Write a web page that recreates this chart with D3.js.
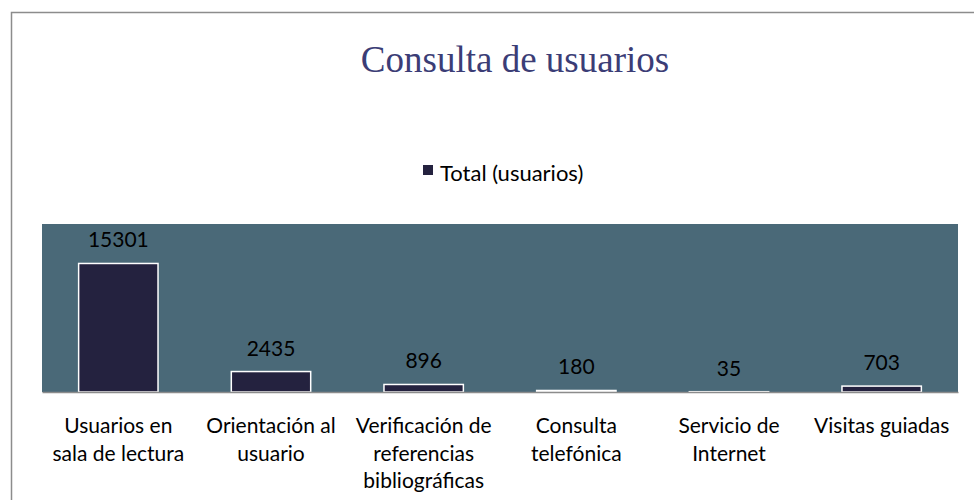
<!DOCTYPE html>
<html>
<head>
<meta charset="utf-8">
<script src="https://cdn.jsdelivr.net/npm/d3@7"></script>
<style>
  html, body { margin: 0; padding: 0; background: #fff; }
  svg { display: block; }
</style>
</head>
<body>
<div id="chart"></div>
<script>
// chart data
const categories = [
  ['Usuarios en', 'sala de lectura'],
  ['Orientación al', 'usuario'],
  ['Verificación de', 'referencias', 'bibliográficas'],
  ['Consulta', 'telefónica'],
  ['Servicio de', 'Internet'],
  ['Visitas guiadas']
];
const totals = [15301, 2435, 896, 180, 35, 703];
const seriesName = 'Total (usuarios)';
const yDomain = [0, 20000];

const width = 974;
const height = 500;
const plot = { left: 42, right: 958, top: 224, bottom: 392 };
const labelFont = 'Lato, "Noto Sans", sans-serif';

const data = categories.map((lines, i) => ({ key: lines.join(' '), lines, total: totals[i] }));

const svg = d3
  .select('#chart')
  .append('svg')
  .attr('width', width)
  .attr('height', height);

// outer chart frame (runs past the right and bottom edges)
svg
  .append('rect')
  .attr('x', 11.5)
  .attr('y', 12.5)
  .attr('width', 1100)
  .attr('height', 600)
  .attr('fill', '#fff')
  .attr('stroke', '#8c8c8c')
  .attr('stroke-width', 1.5);

svg
  .append('text')
  .attr('x', 515)
  .attr('y', 72)
  .attr('text-anchor', 'middle')
  .style('font-family', '"Liberation Serif", "DejaVu Serif", serif')
  .style('font-size', '37px')
  .attr('fill', '#3b3d76')
  .text('Consulta de usuarios');

// legend
const legend = svg.append('g').attr('transform', 'translate(423, 165)');
legend.append('rect').attr('width', 10).attr('height', 10).attr('fill', '#24223f');
legend
  .append('text')
  .attr('x', 17)
  .attr('y', 16)
  .style('font-family', labelFont)
  .style('font-size', '22px')
  .attr('fill', '#000')
  .text(seriesName);

const x = d3
  .scaleBand()
  .domain(data.map((d) => d.key))
  .range([plot.left, plot.right])
  .paddingInner(0.48)
  .paddingOuter(0.24);

const y = d3.scaleLinear().domain(yDomain).range([plot.bottom, plot.top]);

svg
  .append('rect')
  .attr('x', plot.left)
  .attr('y', plot.top)
  .attr('width', plot.right - plot.left)
  .attr('height', plot.bottom - plot.top)
  .attr('fill', '#4a6978');

svg
  .append('g')
  .selectAll('rect')
  .data(data)
  .join('rect')
  .attr('x', (d) => x(d.key))
  .attr('y', (d) => y(d.total))
  .attr('width', x.bandwidth())
  .attr('height', (d) => y(0) - y(d.total))
  .attr('fill', '#24223f')
  .attr('stroke', '#fff')
  .attr('stroke-width', 1.5);

// value labels
svg
  .append('g')
  .selectAll('text')
  .data(data)
  .join('text')
  .attr('x', (d) => x(d.key) + x.bandwidth() / 2)
  .attr('y', (d) => y(d.total) - 16)
  .attr('text-anchor', 'middle')
  .style('font-family', labelFont)
  .style('font-size', '21px')
  .attr('fill', '#000')
  .text((d) => d.total);

// category axis
const axis = svg
  .append('g')
  .attr('transform', `translate(0, ${plot.bottom})`)
  .call(d3.axisBottom(x).tickSize(0).tickFormat(''));
axis.select('.domain').attr('stroke', '#8c8c8c').attr('stroke-width', 1.5);

axis
  .selectAll('.tick text')
  .data(data)
  .each(function (d) {
    const t = d3.select(this)
      .attr('y', 0)
      .attr('dy', null)
      .style('font-family', labelFont)
      .style('font-size', '21px')
      .attr('fill', '#000');
    t.selectAll('tspan')
      .data(d.lines)
      .join('tspan')
      .attr('x', 0)
      .attr('y', (line, i) => 41 + i * 27.5)
      .text((line) => line);
  });
</script>
</body>
</html>
